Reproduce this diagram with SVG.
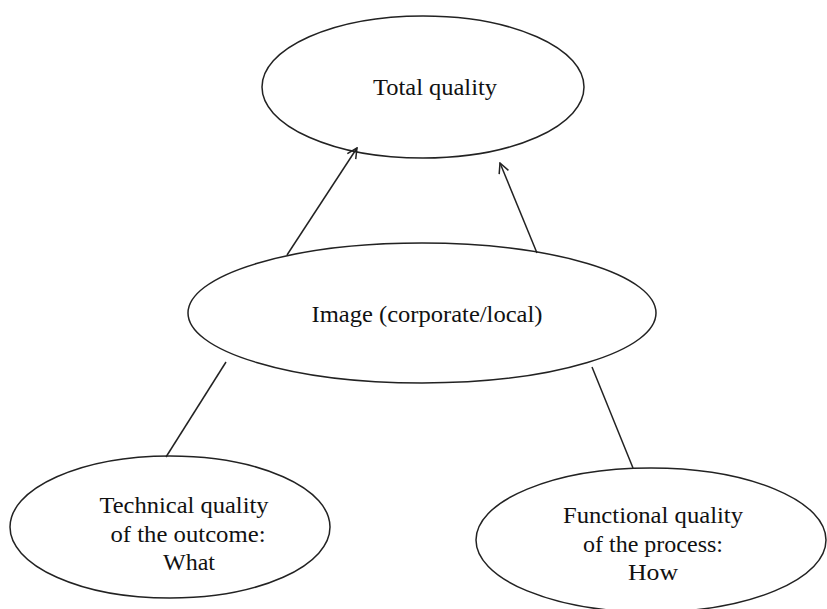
<svg xmlns="http://www.w3.org/2000/svg" width="827" height="609" viewBox="0 0 827 609">
<style>
.node ellipse{fill:#fff;stroke:#222;stroke-width:1.5}
.lbl{font-family:"Liberation Serif","Times New Roman",serif;font-size:24px;fill:#111;text-anchor:middle}
.conn line{stroke:#222;stroke-width:1.5}
</style>
<defs>
<marker id="arr" viewBox="0 0 12 12" refX="11" refY="6" markerWidth="12" markerHeight="12" markerUnits="userSpaceOnUse" orient="auto">
<polyline points="1,1 11,6 1,11" fill="none" stroke="#222" stroke-width="1.5"/>
</marker>
</defs>
<rect width="827" height="609" fill="#fff"/>
<g id="total" class="node">
<ellipse cx="423" cy="87" rx="161" ry="71"/>
<text class="lbl" x="435" y="95" textLength="124" lengthAdjust="spacingAndGlyphs">Total quality</text>
</g>
<g id="image" class="node">
<ellipse cx="422" cy="313" rx="234" ry="70"/>
<text class="lbl" x="427" y="322" textLength="231" lengthAdjust="spacingAndGlyphs">Image (corporate/local)</text>
</g>
<g id="technical" class="node">
<ellipse cx="170" cy="527" rx="160" ry="71"/>
<text class="lbl" x="184" y="513" textLength="169" lengthAdjust="spacingAndGlyphs">Technical quality</text>
<text class="lbl" x="188" y="542" textLength="155" lengthAdjust="spacingAndGlyphs">of the outcome:</text>
<text class="lbl" x="189" y="570" textLength="52" lengthAdjust="spacingAndGlyphs">What</text>
</g>
<g id="functional" class="node">
<ellipse cx="651" cy="540" rx="175" ry="72"/>
<text class="lbl" x="653" y="523" textLength="180" lengthAdjust="spacingAndGlyphs">Functional quality</text>
<text class="lbl" x="653" y="552" textLength="140" lengthAdjust="spacingAndGlyphs">of the process:</text>
<text class="lbl" x="653" y="580" textLength="50" lengthAdjust="spacingAndGlyphs">How</text>
</g>
<g id="connectors" class="conn">
<line x1="287" y1="255" x2="357" y2="148" marker-end="url(#arr)"/>
<line x1="537" y1="253" x2="500" y2="163" marker-end="url(#arr)"/>
<line x1="226" y1="362" x2="166" y2="457"/>
<line x1="592" y1="367" x2="633" y2="468"/>
</g>
</svg>
